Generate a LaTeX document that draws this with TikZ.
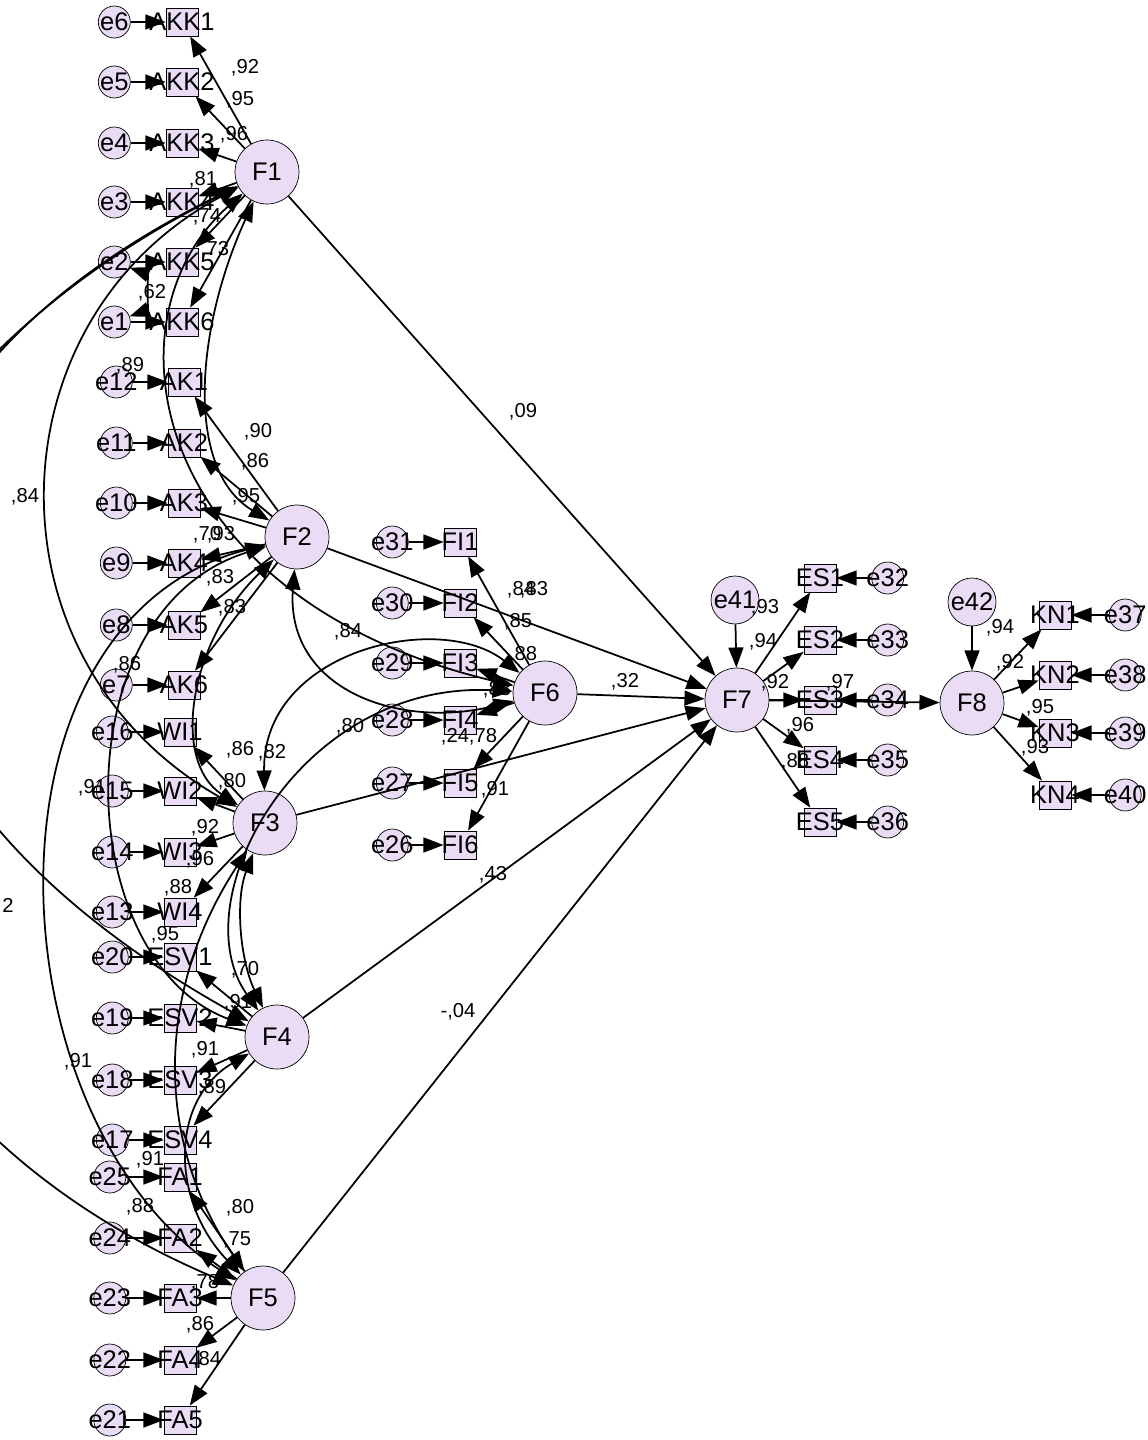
\documentclass[tikz,border=0pt]{standalone}
\usepackage{fontspec}
\setmainfont{Liberation Sans}
\usetikzlibrary{arrows.meta,positioning}
\definecolor{amoslilac}{RGB}{233,220,244}
\newcommand{\nodefont}{\fontsize{14.5}{16}\selectfont}
\newcommand{\wtfont}{\fontsize{11.5}{13}\selectfont}
\newcommand{\ctr}[1]{\makebox[0pt]{#1}}

\begin{document}
\begin{tikzpicture}[
  x=0.02cm, y=-0.02cm,
  node distance=0.7cm,
  latent/.style={draw, circle, fill=amoslilac, minimum size=1.28cm, inner sep=0pt, font=\nodefont},
  ind/.style={draw, fill=amoslilac, minimum width=0.64cm, minimum height=0.56cm, inner sep=0pt, font=\nodefont},
  err/.style={draw, circle, fill=amoslilac, minimum size=0.64cm, inner sep=0pt, font=\nodefont},
  dist/.style={draw, circle, fill=amoslilac, minimum size=0.96cm, inner sep=0pt, font=\nodefont},
  wt/.style={inner sep=0pt, font=\wtfont},
  arr/.style={-{Triangle[length=11.5pt,width=8.5pt]}, line width=1pt},
  cov/.style={{Triangle[length=11.5pt,width=8.5pt]}-{Triangle[length=11.5pt,width=8.5pt]}, line width=1pt}
]
\useasboundingbox (0,0) rectangle (1148,1440);
\clip (0,0) rectangle (1148,1440);

% latent factors
\node[latent] (f1) at (267,172) {F1};
\node[latent] (f2) at (297,537) {F2};
\node[latent] (f3) at (265,823) {F3};
\node[latent] (f4) at (277,1037) {F4};
\node[latent] (f5) at (263,1298) {F5};
\node[latent] (f6) at (545,693) {F6};
\node[latent] (f7) at (737,700) {F7};
\node[latent] (f8) at (972,703) {F8};
\node[dist] (e41) at (735,600) {e41};
\node[dist] (e42) at (972,602) {e42};

% F1 items
\node[ind] (akk1) at (182,22) {\ctr{AKK1}};
\node[ind] (akk2) at (182,82) {\ctr{AKK2}};
\node[ind] (akk3) at (182,143) {\ctr{AKK3}};
\node[ind] (akk4) at (182,202) {\ctr{AKK4}};
\node[ind] (akk5) at (182,262) {\ctr{AKK5}};
\node[ind] (akk6) at (182,322) {\ctr{AKK6}};
\node[err, left=0.7cm of akk1] (e6) {\ctr{e6}};
\node[err, left=0.7cm of akk2] (e5) {\ctr{e5}};
\node[err, left=0.7cm of akk3] (e4) {\ctr{e4}};
\node[err, left=0.7cm of akk4] (e3) {\ctr{e3}};
\node[err, left=0.7cm of akk5] (e2) {\ctr{e2}};
\node[err, left=0.7cm of akk6] (e1) {\ctr{e1}};

% F2 items
\node[ind] (ak1) at (184,382) {\ctr{AK1}};
\node[ind] (ak2) at (184,443) {\ctr{AK2}};
\node[ind] (ak3) at (184,503) {\ctr{AK3}};
\node[ind] (ak4) at (184,563) {\ctr{AK4}};
\node[ind] (ak5) at (184,625) {\ctr{AK5}};
\node[ind] (ak6) at (184,685) {\ctr{AK6}};
\node[err, left=0.7cm of ak1] (e12) {\ctr{e12}};
\node[err, left=0.7cm of ak2] (e11) {\ctr{e11}};
\node[err, left=0.7cm of ak3] (e10) {\ctr{e10}};
\node[err, left=0.7cm of ak4] (e9) {\ctr{e9}};
\node[err, left=0.7cm of ak5] (e8) {\ctr{e8}};
\node[err, left=0.7cm of ak6] (e7) {\ctr{e7}};

% F3 items
\node[ind] (wi1) at (180,732) {\ctr{WI1}};
\node[ind] (wi2) at (180,791) {\ctr{WI2}};
\node[ind] (wi3) at (180,852) {\ctr{WI3}};
\node[ind] (wi4) at (180,912) {\ctr{WI4}};
\node[err, left=0.7cm of wi1] (e16) {\ctr{e16}};
\node[err, left=0.7cm of wi2] (e15) {\ctr{e15}};
\node[err, left=0.7cm of wi3] (e14) {\ctr{e14}};
\node[err, left=0.7cm of wi4] (e13) {\ctr{e13}};

% F4 items
\node[ind] (esv1) at (180,957) {\ctr{ESV1}};
\node[ind] (esv2) at (180,1018) {\ctr{ESV2}};
\node[ind] (esv3) at (180,1080) {\ctr{ESV3}};
\node[ind] (esv4) at (180,1140) {\ctr{ESV4}};
\node[err, left=0.7cm of esv1] (e20) {\ctr{e20}};
\node[err, left=0.7cm of esv2] (e19) {\ctr{e19}};
\node[err, left=0.7cm of esv3] (e18) {\ctr{e18}};
\node[err, left=0.7cm of esv4] (e17) {\ctr{e17}};

% F5 items
\node[ind] (fa1) at (180,1177) {\ctr{FA1}};
\node[ind] (fa2) at (180,1238) {\ctr{FA2}};
\node[ind] (fa3) at (180,1298) {\ctr{FA3}};
\node[ind] (fa4) at (180,1360) {\ctr{FA4}};
\node[ind] (fa5) at (180,1420) {\ctr{FA5}};
\node[err, left=0.75cm of fa1] (e25) {\ctr{e25}};
\node[err, left=0.75cm of fa2] (e24) {\ctr{e24}};
\node[err, left=0.75cm of fa3] (e23) {\ctr{e23}};
\node[err, left=0.75cm of fa4] (e22) {\ctr{e22}};
\node[err, left=0.75cm of fa5] (e21) {\ctr{e21}};

% F6 items
\node[ind] (fi1) at (460,542) {\ctr{FI1}};
\node[ind] (fi2) at (460,603) {\ctr{FI2}};
\node[ind] (fi3) at (460,663) {\ctr{FI3}};
\node[ind] (fi4) at (460,720) {\ctr{FI4}};
\node[ind] (fi5) at (460,783) {\ctr{FI5}};
\node[ind] (fi6) at (460,845) {\ctr{FI6}};
\node[err, left=0.7cm of fi1] (e31) {\ctr{e31}};
\node[err, left=0.7cm of fi2] (e30) {\ctr{e30}};
\node[err, left=0.7cm of fi3] (e29) {\ctr{e29}};
\node[err, left=0.7cm of fi4] (e28) {\ctr{e28}};
\node[err, left=0.7cm of fi5] (e27) {\ctr{e27}};
\node[err, left=0.7cm of fi6] (e26) {\ctr{e26}};

% F7 items
\node[ind] (es1) at (820,578) {\ctr{ES1}};
\node[ind] (es2) at (820,640) {\ctr{ES2}};
\node[ind] (es3) at (820,700) {\ctr{ES3}};
\node[ind] (es4) at (820,760) {\ctr{ES4}};
\node[ind] (es5) at (820,822) {\ctr{ES5}};
\node[err, right=0.7cm of es1] (e32) {\ctr{e32}};
\node[err, right=0.7cm of es2] (e33) {\ctr{e33}};
\node[err, right=0.7cm of es3] (e34) {\ctr{e34}};
\node[err, right=0.7cm of es4] (e35) {\ctr{e35}};
\node[err, right=0.7cm of es5] (e36) {\ctr{e36}};

% F8 items
\node[ind] (kn1) at (1055,615) {\ctr{KN1}};
\node[ind] (kn2) at (1055,675) {\ctr{KN2}};
\node[ind] (kn3) at (1055,733) {\ctr{KN3}};
\node[ind] (kn4) at (1055,795) {\ctr{KN4}};
\node[err, right=0.75cm of kn1] (e37) {\ctr{e37}};
\node[err, right=0.75cm of kn2] (e38) {\ctr{e38}};
\node[err, right=0.75cm of kn3] (e39) {\ctr{e39}};
\node[err, right=0.75cm of kn4] (e40) {\ctr{e40}};

% error terms
\foreach \e/\v in {e6/akk1, e5/akk2, e4/akk3, e3/akk4, e2/akk5, e1/akk6,
    e12/ak1, e11/ak2, e10/ak3, e9/ak4, e8/ak5, e7/ak6,
    e16/wi1, e15/wi2, e14/wi3, e13/wi4, e20/esv1, e19/esv2, e18/esv3, e17/esv4,
    e25/fa1, e24/fa2, e23/fa3, e22/fa4, e21/fa5,
    e31/fi1, e30/fi2, e29/fi3, e28/fi4, e27/fi5, e26/fi6,
    e32/es1, e33/es2, e34/es3, e35/es4, e36/es5,
    e37/kn1, e38/kn2, e39/kn3, e40/kn4, e41/f7, e42/f8}
  \draw[arr] (\e) -- (\v);

% loadings
\foreach \f/\v in {f1/akk1, f1/akk2, f1/akk3, f1/akk4, f1/akk5, f1/akk6,
    f2/ak1, f2/ak2, f2/ak3, f2/ak4, f2/ak5, f2/ak6,
    f3/wi1, f3/wi2, f3/wi3, f3/wi4, f4/esv1, f4/esv2, f4/esv3, f4/esv4,
    f5/fa1, f5/fa2, f5/fa3, f5/fa4, f5/fa5,
    f6/fi1, f6/fi2, f6/fi3, f6/fi4, f6/fi5, f6/fi6,
    f7/es1, f7/es2, f7/es3, f7/es4, f7/es5,
    f8/kn1, f8/kn2, f8/kn3, f8/kn4}
  \draw[arr] (\f) -- (\v);

% structural paths
\draw[arr] (f1) -- (f7);
\draw[arr] (f2) -- (f7);
\draw[arr] (f3) -- (f7);
\draw[arr] (f4) -- (f7);
\draw[arr] (f5) -- (f7);
\draw[arr] (f6) -- (f7);
\draw[arr] (f7) -- (f8);

% covariances
\draw[cov] (f1) .. controls (195,330) and (185,470) .. (f2);
\draw[cov] (f1) .. controls (-10,320) and (-20,660) .. (f3);
\draw[cov] (f1) .. controls (-200,400) and (-220,760) .. (f4);
\draw[cov] (f1) .. controls (-330,470) and (-300,1060) .. (f5);
\draw[cov] (f1) .. controls (100,320) and (150,600) .. (f6);
\draw[cov] (f2) .. controls (190,640) and (170,760) .. (f3);
\draw[cov] (f2) .. controls (60,610) and (70,960) .. (f4);
\draw[cov] (f2) .. controls (-30,620) and (-10,1120) .. (f5);
\draw[cov] (f2) .. controls (285,690) and (400,730) .. (f6);
\draw[cov] (f3) .. controls (235,900) and (240,960) .. (f4);
\draw[cov] (f3) .. controls (150,1000) and (160,1150) .. (f5);
\draw[cov] (f3) .. controls (262,650) and (440,610) .. (f6);
\draw[cov] (f4) .. controls (170,1100) and (170,1200) .. (f5);
\draw[cov] (f4) .. controls (180,900) and (300,680) .. (f6);
\draw[cov] (e2) to[out=-20, in=20] (e1);

% estimates
\node[wt] (w1) at (245,68) {,92};
\node[wt] (w2) at (240,100) {,95};
\node[wt] (w3) at (234,135) {,96};
\node[wt] (w4) at (203,180) {,81};
\node[wt] (w5) at (207,217) {,74};
\node[wt] (w6) at (215,250) {,73};
\node[wt] (w7) at (258,432) {,90};
\node[wt] (w8) at (255,462) {,86};
\node[wt] (w9) at (246,497) {,95};
\node[wt] (w10) at (207,535) {,70};
\node[wt] (w11) at (221,535) {,93};
\node[wt] (w12) at (220,578) {,83};
\node[wt] (w13) at (232,608) {,83};
\node[wt] (w14) at (240,750) {,86};
\node[wt] (w15) at (232,782) {,80};
\node[wt] (w16) at (205,828) {,92};
\node[wt] (w17) at (200,860) {,96};
\node[wt] (w18) at (178,888) {,88};
\node[wt] (w19) at (245,970) {,70};
\node[wt] (w20) at (238,1003) {,91};
\node[wt] (w21) at (205,1050) {,91};
\node[wt] (w22) at (212,1088) {,89};
\node[wt] (w23) at (240,1208) {,80};
\node[wt] (w24) at (237,1240) {,75};
\node[wt] (w25) at (205,1283) {,78};
\node[wt] (w26) at (200,1325) {,86};
\node[wt] (w27) at (207,1360) {,84};
\node[wt] (w28) at (521,590) {,84};
\node[wt] (w29) at (534,590) {,83};
\node[wt] (w30) at (518,622) {,85};
\node[wt] (w31) at (523,655) {,88};
\node[wt] (w32) at (497,690) {,83};
\node[wt] (w33) at (495,790) {,91};
\node[wt] (w34) at (765,608) {,93};
\node[wt] (w35) at (763,642) {,94};
\node[wt] (w36) at (775,683) {,92};
\node[wt] (w37) at (800,726) {,96};
\node[wt] (w38) at (795,762) {,88};
\node[wt] (w39) at (840,683) {,97};
\node[wt] (w40) at (1000,628) {,94};
\node[wt] (w41) at (1010,663) {,92};
\node[wt] (w42) at (1040,708) {,95};
\node[wt] (w43) at (1035,748) {,93};
\node[wt] (w44) at (523,412) {,09};
\node[wt] (w45) at (625,682) {,32};
\node[wt] (w46) at (455,737) {,24};
\node[wt] (w47) at (483,737) {,78};
\node[wt] (w48) at (493,875) {,43};
\node[wt] (w49) at (458,1012) {-,04};
\node[wt] (c1) at (25,497) {,84};
\node[wt] (c2) at (152,293) {,62};
\node[wt] (c3) at (130,366) {,89};
\node[wt] (c4) at (127,665) {,86};
\node[wt] (c5) at (92,788) {,91};
\node[wt] (c6) at (8,905) {2};
\node[wt] (c7) at (165,935) {,95};
\node[wt] (c8) at (78,1062) {,91};
\node[wt] (c9) at (150,1160) {,91};
\node[wt] (c10) at (140,1207) {,88};
\node[wt] (c11) at (348,632) {,84};
\node[wt] (c12) at (272,753) {,82};
\node[wt] (c13) at (350,727) {,80};
\end{tikzpicture}
\end{document}
